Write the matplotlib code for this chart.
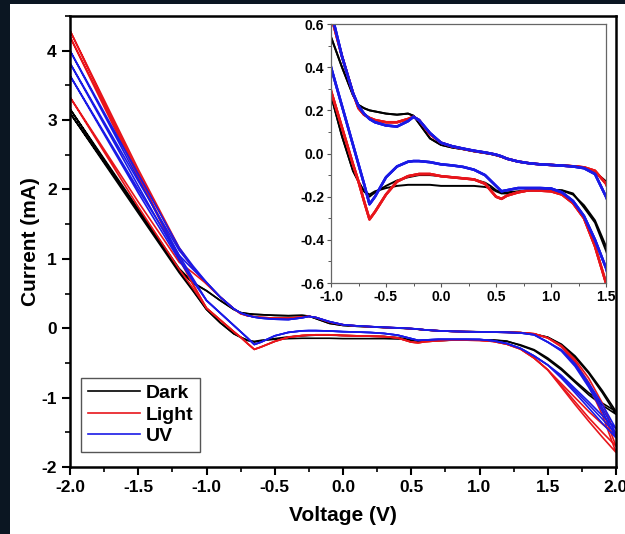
import numpy as np
import matplotlib
matplotlib.use("Agg")
import matplotlib.pyplot as plt
from matplotlib.ticker import MultipleLocator, FormatStrFormatter
from matplotlib.patches import Rectangle

plt.rcParams["font.family"] = ["Liberation Sans", "DejaVu Sans"]
plt.rcParams["font.weight"] = "bold"
plt.rcParams["axes.unicode_minus"] = False

# voltage grids (V): vertex ends per cycle, shared middle part per condition
V_LEFT = [-2.0, -1.5, -1.2, -1.1]
V_MID = [-1.0, -0.9, -0.8, -0.75, -0.7, -0.65, -0.6, -0.5, -0.4,
         -0.3, -0.25, -0.2, -0.1, 0.0, 0.1, 0.2, 0.3, 0.4, 0.45, 0.5, 0.55,
         0.6, 0.7, 0.8, 0.9, 1.0, 1.1, 1.2, 1.3, 1.4, 1.5]
V_RIGHT = [1.6, 1.7, 1.8, 1.9, 2.0]

# ---- Dark (mA)
dark_up_mid = [0.54, 0.40, 0.27, 0.225, 0.21, 0.20, 0.195, 0.185, 0.18,
               0.185, 0.175, 0.14, 0.07, 0.04, 0.028, 0.02, 0.01, 0.002, -0.002, -0.008, -0.015,
               -0.025, -0.038, -0.045, -0.05, -0.052, -0.055, -0.058, -0.064, -0.085, -0.13]
dark_lo_mid = [[0.27, 0.08, -0.08, -0.13, -0.175, -0.20, -0.18, -0.15, -0.125,
                -0.11, -0.105, -0.10, -0.10, -0.105, -0.11, -0.115, -0.12, -0.135, -0.15, -0.17, -0.18,
                -0.18, -0.175, -0.17, -0.168, -0.168, -0.17, -0.185, -0.25, -0.32, -0.45],
               [0.27, 0.08, -0.08, -0.13, -0.175, -0.19, -0.175, -0.16, -0.15,
                -0.145, -0.145, -0.145, -0.145, -0.15, -0.15, -0.15, -0.15, -0.155, -0.16, -0.175, -0.185,
                -0.185, -0.178, -0.172, -0.17, -0.17, -0.172, -0.19, -0.24, -0.31, -0.43]]
dark_left_up = [[3.16, 1.72, 0.86, 0.66], [3.10, 1.70, 0.84, 0.65]]
dark_left_lo = [[3.16, 1.68, 0.82, 0.55], [3.10, 1.66, 0.80, 0.54]]
dark_right_up = [[-0.24, -0.42, -0.65, -0.93, -1.24], [-0.23, -0.40, -0.63, -0.90, -1.20]]
dark_right_lo = [[-0.60, -0.78, -0.96, -1.11, -1.24], [-0.58, -0.76, -0.93, -1.08, -1.20]]

# ---- Light (mA)
light_up_mid = [0.64, 0.45, 0.28, 0.21, 0.18, 0.165, 0.155, 0.145, 0.145,
                0.16, 0.17, 0.155, 0.09, 0.05, 0.033, 0.022, 0.012, 0.004, 0.0, -0.006, -0.014,
                -0.024, -0.037, -0.045, -0.05, -0.053, -0.056, -0.059, -0.064, -0.08, -0.14]
light_lo_mid = [0.29, 0.12, -0.05, -0.13, -0.22, -0.305, -0.27, -0.19, -0.13,
                -0.105, -0.10, -0.095, -0.095, -0.105, -0.11, -0.115, -0.12, -0.14, -0.17, -0.20, -0.21,
                -0.195, -0.18, -0.17, -0.172, -0.175, -0.19, -0.23, -0.30, -0.43, -0.60]
light_left_up = [[4.29, 2.29, 1.16, 0.88], [4.20, 2.25, 1.14, 0.87], [3.33, 1.82, 0.95, 0.80]]
light_left_lo = [[4.29, 2.22, 1.02, 0.64], [4.20, 2.18, 1.00, 0.63], [3.33, 1.75, 0.85, 0.58]]
light_right_up = [[-0.27, -0.50, -0.82, -1.25, -1.79], [-0.26, -0.48, -0.78, -1.18, -1.70],
                  [-0.25, -0.45, -0.72, -1.08, -1.55]]
light_right_lo = [[-0.85, -1.10, -1.34, -1.57, -1.79], [-0.83, -1.06, -1.29, -1.50, -1.70],
                  [-0.80, -1.00, -1.20, -1.38, -1.55]]

# ---- UV (mA)
uv_up_mid = [0.66, 0.45, 0.28, 0.22, 0.185, 0.16, 0.145, 0.13, 0.125,
             0.15, 0.17, 0.155, 0.095, 0.05, 0.034, 0.023, 0.013, 0.005, 0.0, -0.005, -0.013,
             -0.024, -0.037, -0.045, -0.05, -0.053, -0.056, -0.06, -0.068, -0.095, -0.20]
uv_lo_mid = [0.40, 0.22, 0.04, -0.05, -0.14, -0.235, -0.20, -0.11, -0.06,
             -0.038, -0.035, -0.035, -0.04, -0.05, -0.055, -0.062, -0.075, -0.10, -0.125, -0.15, -0.175,
             -0.17, -0.16, -0.16, -0.16, -0.162, -0.18, -0.22, -0.29, -0.40, -0.53]
uv_left_up = [[4.00, 2.22, 1.16, 0.90], [3.82, 2.12, 1.12, 0.88], [3.64, 2.00, 1.05, 0.85]]
uv_left_lo = [[4.00, 2.15, 1.05, 0.72], [3.82, 2.05, 1.00, 0.70], [3.64, 1.95, 0.98, 0.68]]
uv_right_up = [[-0.33, -0.55, -0.85, -1.20, -1.58], [-0.32, -0.53, -0.82, -1.15, -1.52],
               [-0.31, -0.51, -0.79, -1.10, -1.45]]
uv_right_lo = [[-0.72, -0.93, -1.15, -1.37, -1.58], [-0.70, -0.90, -1.10, -1.31, -1.52],
               [-0.68, -0.87, -1.06, -1.26, -1.45]]

labels = ["Dark", "Light", "UV"]
colors = ["#000000", "#e8151b", "#1a1ae6"]


def cycles(left_up, left_lo, up_mid, lo_mid, right_up, right_lo):
    # each cycle: upper branch -2 -> 2, then lower branch back 2 -> -2
    out = []
    v = np.array(V_LEFT + V_MID + V_RIGHT)
    for i in range(len(left_up)):
        lo = lo_mid[i] if isinstance(lo_mid[0], list) else lo_mid
        i_up = np.array(left_up[i] + up_mid + right_up[i])
        i_lo = np.array(left_lo[i] + lo + right_lo[i])
        out.append((np.concatenate([v, v[::-1]]), np.concatenate([i_up, i_lo[::-1]])))
    return out


data = [cycles(dark_left_up, dark_left_lo, dark_up_mid, dark_lo_mid, dark_right_up, dark_right_lo),
        cycles(light_left_up, light_left_lo, light_up_mid, light_lo_mid, light_right_up, light_right_lo),
        cycles(uv_left_up, uv_left_lo, uv_up_mid, uv_lo_mid, uv_right_up, uv_right_lo)]

fig = plt.figure(figsize=(6.25, 5.34), dpi=100, facecolor="#0b1622")
fig.add_artist(Rectangle((10 / 625, 0), 1, 1 - 4 / 534, transform=fig.transFigure,
                         facecolor="white", edgecolor="none", zorder=-1))

ax = fig.add_axes([0.112, 0.1255, 0.8736, 0.8446])
for k in range(3):
    for n, (v, cur) in enumerate(data[k]):
        ax.plot(v, cur, color=colors[k], lw=1.2, label=labels[k] if n == 0 else None)
ax.set_xlim(-2, 2)
ax.set_ylim(-2, 4.5)
ax.xaxis.set_major_locator(MultipleLocator(0.5))
ax.xaxis.set_minor_locator(MultipleLocator(0.25))
ax.yaxis.set_major_locator(MultipleLocator(1))
ax.yaxis.set_minor_locator(MultipleLocator(0.5))
ax.xaxis.set_major_formatter(FormatStrFormatter("%.1f"))
ax.yaxis.set_major_formatter(FormatStrFormatter("%d"))
ax.tick_params(which="major", direction="out", length=6, width=1.5, labelsize=12.5)
ax.tick_params(which="minor", direction="out", length=3.5, width=1.2)
for s in ax.spines.values():
    s.set_linewidth(1.8)
ax.set_xlabel("Voltage (V)", fontsize=15, fontweight="bold", labelpad=8)
ax.set_ylabel("Current (mA)", fontsize=15, fontweight="bold", labelpad=1)
leg = ax.legend(loc="lower left", bbox_to_anchor=(0.02, 0.033), borderaxespad=0,
                fontsize=14, handlelength=2.7, handletextpad=0.3, labelspacing=0.2,
                borderpad=0.35, fancybox=False, framealpha=1, edgecolor="#555555")
leg.get_frame().set_linewidth(1.0)

# inset: zoom of the same cycles
axin = fig.add_axes([0.5296, 0.47, 0.44, 0.485])
for k in range(3):
    for v, cur in data[k]:
        axin.plot(v, cur, color=colors[k], lw=1.8 if k else 1.4)
axin.set_xlim(-1, 1.5)
axin.set_ylim(-0.6, 0.6)
axin.xaxis.set_major_locator(MultipleLocator(0.5))
axin.xaxis.set_minor_locator(MultipleLocator(0.25))
axin.yaxis.set_major_locator(MultipleLocator(0.2))
axin.yaxis.set_minor_locator(MultipleLocator(0.1))
axin.xaxis.set_major_formatter(FormatStrFormatter("%.1f"))
axin.yaxis.set_major_formatter(FormatStrFormatter("%.1f"))
axin.tick_params(which="major", direction="out", length=3, width=0.8, labelsize=10,
                 color="#555555", pad=2)
axin.tick_params(which="minor", direction="out", length=2, width=0.7, color="#555555")
for s in axin.spines.values():
    s.set_linewidth(0.9)
    s.set_color("#666666")

fig.savefig("out.png", dpi=100, facecolor=fig.get_facecolor())
